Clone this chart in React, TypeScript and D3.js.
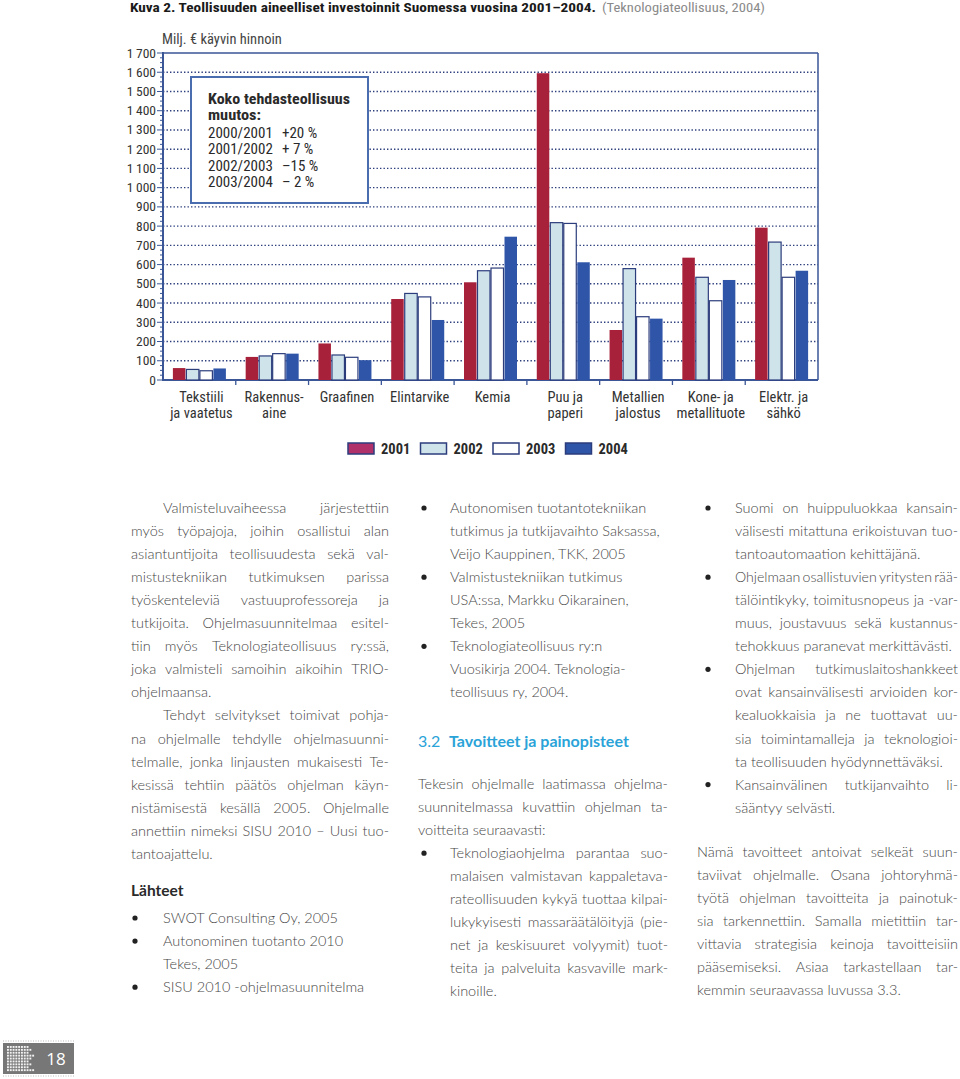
import React from "react";
import * as d3 from "d3";

// ---------------- Chart data ----------------
const categories: string[][] = [
  ["Tekstiili", "ja vaatetus"],
  ["Rakennus-", "aine"],
  ["Graafinen"],
  ["Elintarvike"],
  ["Kemia"],
  ["Puu ja", "paperi"],
  ["Metallien", "jalostus"],
  ["Kone- ja", "metallituote"],
  ["Elektr. ja", "sähkö"],
];
const years = ["2001", "2002", "2003", "2004"];
const values2001 = [62, 120, 190, 421, 508, 1595, 260, 636, 792];
const values2002 = [55, 125, 130, 450, 568, 818, 579, 534, 717];
const values2003 = [48, 137, 118, 432, 582, 814, 329, 412, 534];
const values2004 = [60, 137, 103, 312, 745, 612, 319, 520, 568];
const seriesValues = [values2001, values2002, values2003, values2004];
const yTickValues = d3.range(0, 1701, 100);
const yMinorTicks = d3.range(0, 1701, 25);
const insetTitle = ["Koko tehdasteollisuus", "muutos:"];
const insetPeriods = ["2000/2001", "2001/2002", "2002/2003", "2003/2004"];
const insetChanges = ["+20 %", "+ 7 %", "–15 %", "– 2 %"];

const titleBold = "Kuva 2. Teollisuuden aineelliset investoinnit Suomessa vuosina 2001–2004.";
const titleLight = "(Teknologiateollisuus, 2004)";
const yAxisTitle = "Milj. € käyvin hinnoin";

// ---------------- Page text ----------------
type L = { t: string; k: string; j: number };
const col1a: L[] = [
  { t: "Valmisteluvaiheessa järjestettiin", k: "i", j: 1 },
  { t: "myös työpajoja, joihin osallistui alan", k: "p", j: 1 },
  { t: "asiantuntijoita teollisuudesta sekä val-", k: "p", j: 1 },
  { t: "mistustekniikan tutkimuksen parissa", k: "p", j: 1 },
  { t: "työskenteleviä vastuuprofessoreja ja", k: "p", j: 1 },
  { t: "tutkijoita. Ohjelmasuunnitelmaa esitel-", k: "p", j: 1 },
  { t: "tiin myös Teknologiateollisuus ry:ssä,", k: "p", j: 1 },
  { t: "joka valmisteli samoihin aikoihin TRIO-", k: "p", j: 1 },
  { t: "ohjelmaansa.", k: "p", j: 0 },
  { t: "Tehdyt selvitykset toimivat pohja-", k: "i", j: 1 },
  { t: "na ohjelmalle tehdylle ohjelmasuunni-", k: "p", j: 1 },
  { t: "telmalle, jonka linjausten mukaisesti Te-", k: "p", j: 1 },
  { t: "kesissä tehtiin päätös ohjelman käyn-", k: "p", j: 1 },
  { t: "nistämisestä kesällä 2005. Ohjelmalle", k: "p", j: 1 },
  { t: "annettiin nimeksi SISU 2010 – Uusi tuo-", k: "p", j: 1 },
  { t: "tantoajattelu.", k: "p", j: 0 },
];
const col1Heading = "Lähteet";
const col1b: L[] = [
  { t: "SWOT Consulting Oy, 2005", k: "b", j: 0 },
  { t: "Autonominen tuotanto 2010", k: "b", j: 0 },
  { t: "Tekes, 2005", k: "c", j: 0 },
  { t: "SISU 2010 -ohjelmasuunnitelma", k: "b", j: 0 },
];
const col2a: L[] = [
  { t: "Autonomisen tuotantotekniikan", k: "b", j: 0 },
  { t: "tutkimus ja tutkijavaihto Saksassa,", k: "c", j: 0 },
  { t: "Veijo Kauppinen, TKK, 2005", k: "c", j: 0 },
  { t: "Valmistustekniikan tutkimus", k: "b", j: 0 },
  { t: "USA:ssa, Markku Oikarainen,", k: "c", j: 0 },
  { t: "Tekes, 2005", k: "c", j: 0 },
  { t: "Teknologiateollisuus ry:n", k: "b", j: 0 },
  { t: "Vuosikirja 2004. Teknologia-", k: "c", j: 0 },
  { t: "teollisuus ry, 2004.", k: "c", j: 0 },
];
const col2HeadNum = "3.2";
const col2Heading = "Tavoitteet ja painopisteet";
const col2b: L[] = [
  { t: "Tekesin ohjelmalle laatimassa ohjelma-", k: "p", j: 1 },
  { t: "suunnitelmassa kuvattiin ohjelman ta-", k: "p", j: 1 },
  { t: "voitteita seuraavasti:", k: "p", j: 0 },
  { t: "Teknologiaohjelma parantaa suo-", k: "b", j: 1 },
  { t: "malaisen valmistavan kappaletava-", k: "c", j: 1 },
  { t: "rateollisuuden kykyä tuottaa kilpai-", k: "c", j: 1 },
  { t: "lukykyisesti massaräätälöityjä (pie-", k: "c", j: 1 },
  { t: "net ja keskisuuret volyymit) tuot-", k: "c", j: 1 },
  { t: "teita ja palveluita kasvaville mark-", k: "c", j: 1 },
  { t: "kinoille.", k: "c", j: 0 },
];
const col3a: L[] = [
  { t: "Suomi on huippuluokkaa kansain-", k: "b", j: 1 },
  { t: "välisesti mitattuna erikoistuvan tuo-", k: "c", j: 1 },
  { t: "tantoautomaation kehittäjänä.", k: "c", j: 0 },
  { t: "Ohjelmaan osallistuvien yritysten rää-", k: "b", j: 1 },
  { t: "tälöintikyky, toimitusnopeus ja -var-", k: "c", j: 1 },
  { t: "muus, joustavuus sekä kustannus-", k: "c", j: 1 },
  { t: "tehokkuus paranevat merkittävästi.", k: "c", j: 0 },
  { t: "Ohjelman tutkimuslaitoshankkeet", k: "b", j: 1 },
  { t: "ovat kansainvälisesti arvioiden kor-", k: "c", j: 1 },
  { t: "kealuokkaisia ja ne tuottavat uu-", k: "c", j: 1 },
  { t: "sia toimintamalleja ja teknologioi-", k: "c", j: 1 },
  { t: "ta teollisuuden hyödynnettäväksi.", k: "c", j: 0 },
  { t: "Kansainvälinen tutkijanvaihto li-", k: "b", j: 1 },
  { t: "sääntyy selvästi.", k: "c", j: 0 },
];
const col3b: L[] = [
  { t: "Nämä tavoitteet antoivat selkeät suun-", k: "p", j: 1 },
  { t: "taviivat ohjelmalle. Osana johtoryhmä-", k: "p", j: 1 },
  { t: "työtä ohjelman tavoitteita ja painotuk-", k: "p", j: 1 },
  { t: "sia tarkennettiin. Samalla mietittiin tar-", k: "p", j: 1 },
  { t: "vittavia strategisia keinoja tavoitteisiin", k: "p", j: 1 },
  { t: "pääsemiseksi. Asiaa tarkastellaan tar-", k: "p", j: 1 },
  { t: "kemmin seuraavassa luvussa 3.3.", k: "p", j: 0 },
];
const pageNumber = "18";

// ---------------- Styling ----------------
const CHART_FONT = "'Liberation Sans Narrow', 'Roboto Condensed', 'DejaVu Sans Condensed', sans-serif";
const BODY_FONT_FAMILY = "Lato";
const BODY_SIZE = 14.5;
const BODY_WEIGHT = 300;
const BODY_COLOR = "#474747";
const LINE_H = 23.05;
const seriesFill = ["#a8213a", "#cfe3ea", "#ffffff", "#2f55a8"];
const legendFill = ["#b0306a", "#cfe3ea", "#ffffff", "#2f55a8"];
const OUTLINE = "#2c3d7c";

let measureCtx: CanvasRenderingContext2D | null = null;
function measure(text: string, size: number): number {
  if (!measureCtx) measureCtx = document.createElement("canvas").getContext("2d");
  if (!measureCtx) return text.length * size * 0.5;
  measureCtx.font = `${BODY_WEIGHT} ${size}px ${BODY_FONT_FAMILY}`;
  return measureCtx.measureText(text).width;
}

type ColGeom = { left: number; right: number; indent: number; bullet: number; bulletText: number };

function TextLine({ line, y, g }: { line: L; y: number; g: ColGeom }) {
  const x0 = line.k === "i" ? g.indent : line.k === "b" || line.k === "c" ? g.bulletText : g.left;
  const width = g.right - x0;
  const base = y + 5;
  const bullet = line.k === "b" ? <circle cx={g.bullet} cy={y} r={2.6} fill="#222" /> : null;
  const words = line.t.split(" ");
  // choose a size so that the words fit with at least a minimal gap
  const minGap = 2.2;
  let size = BODY_SIZE;
  const needed = (s: number) => d3.sum(words.map((w) => measure(w, s))) + minGap * (words.length - 1);
  const n0 = needed(size);
  if (n0 > width) size = size * (width / n0);
  const common = { fontFamily: BODY_FONT_FAMILY, fontSize: size, fontWeight: BODY_WEIGHT, fill: BODY_COLOR };
  if (!line.j || words.length < 2) {
    return (
      <g>
        {bullet}
        <text x={x0} y={base} {...common}>
          {line.t}
        </text>
      </g>
    );
  }
  const widths = words.map((w) => measure(w, size));
  const gap = (width - d3.sum(widths)) / (words.length - 1);
  let cx = x0;
  const xs = widths.map((w) => {
    const p = cx;
    cx += w + gap;
    return p;
  });
  return (
    <g>
      {bullet}
      {words.map((w, i) => (
        <text key={i} x={xs[i]} y={base} {...common}>
          {w}
        </text>
      ))}
    </g>
  );
}

function Block({ lines, y0, g }: { lines: L[]; y0: number; g: ColGeom }) {
  return (
    <g>
      {lines.map((l, i) => (
        <TextLine key={i} line={l} y={y0 + i * LINE_H} g={g} />
      ))}
    </g>
  );
}

function Chart() {
  const left = 163, right = 818, top = 53, bottom = 380;
  const x = d3.scaleBand<number>().domain(d3.range(categories.length)).range([left, right]);
  const y = d3.scaleLinear().domain([0, 1700]).range([bottom, top]);
  const groupW = 54;
  const xs = d3.scaleBand<string>().domain(years).range([0, groupW]);
  const fmt = (d: number) => (d >= 1000 ? `${Math.floor(d / 1000)}\u2009${String(d % 1000).padStart(3, "0")}` : String(d));

  return (
    <g>
      {/* title */}
      <text x={130} y={12} fontFamily={CHART_FONT} fontSize={13.5} fontWeight="bold" fill="#1a1a1a" textLength={466} lengthAdjust="spacingAndGlyphs">
        {titleBold}
      </text>
      <text x={602} y={12} fontFamily={CHART_FONT} fontSize={13.5} fill="#8a8a8a" textLength={163} lengthAdjust="spacingAndGlyphs">
        {titleLight}
      </text>

      {/* y axis title */}
      <text x={162} y={44} fontFamily={CHART_FONT} fontSize={14.5} fill="#444">
        {yAxisTitle}
      </text>

      {/* gridlines */}
      {yTickValues
        .filter((d) => d > 0 && d < 1700)
        .map((d) => (
          <line key={d} x1={left} x2={right} y1={y(d)} y2={y(d)} stroke="#2c3d7c" strokeWidth={1.4} strokeDasharray="1.4 2.1" />
        ))}

      {/* frame */}
      <line x1={left} x2={right} y1={y(1700)} y2={y(1700)} stroke="#3a5696" strokeWidth={1.5} />
      <line x1={right} x2={right} y1={y(1700)} y2={y(0)} stroke="#3a5696" strokeWidth={1.5} />
      <line x1={left} x2={left} y1={y(1700) - 1} y2={y(0) + 1} stroke="#3a5696" strokeWidth={2} />
      <line x1={left} x2={right} y1={y(0)} y2={y(0)} stroke="#3a5696" strokeWidth={2} />

      {/* y ticks */}
      {yMinorTicks.map((d) => (
        <line key={"m" + d} x1={left - (d % 100 === 0 ? 6 : 3)} x2={left} y1={y(d)} y2={y(d)} stroke="#3a5696" strokeWidth={1} />
      ))}
      {yTickValues.map((d) => (
        <text key={"t" + d} x={156} y={y(d) + 4.5} textAnchor="end" fontFamily={CHART_FONT} fontSize={13.5} fill="#333">
          {fmt(d)}
        </text>
      ))}

      {/* category dividers */}
      {d3.range(1, categories.length).map((i) => (
        <line key={"c" + i} x1={x(i)!} x2={x(i)!} y1={y(0)} y2={y(0) + 5} stroke="#3a5696" strokeWidth={1.3} />
      ))}

      {/* inset box */}
      <rect x={191} y={77} width={177} height={126} fill="#fff" stroke="#4a6db0" strokeWidth={2} />
      {insetTitle.map((t, i) => (
        <text key={"it" + i} x={208} y={104 + i * 16.3} fontFamily={CHART_FONT} fontSize={15} fontWeight="bold" fill="#2a2a2a" textLength={i === 0 ? 142 : 53} lengthAdjust="spacingAndGlyphs">
          {t}
        </text>
      ))}
      {insetPeriods.map((p, i) => (
        <g key={"ip" + i}>
          <text x={208} y={138 + i * 16.4} fontFamily={CHART_FONT} fontSize={15} fill="#2a2a2a">
            {p}
          </text>
          <text x={282} y={138 + i * 16.4} fontFamily={CHART_FONT} fontSize={15} fill="#2a2a2a">
            {insetChanges[i]}
          </text>
        </g>
      ))}

      {/* bars */}
      {categories.map((_, ci) => {
        const gx = x(ci)! + (x.bandwidth() - groupW) / 2;
        return (
          <g key={"b" + ci}>
            {years.map((yr, si) => {
              const v = seriesValues[si][ci];
              return (
                <rect
                  key={yr}
                  x={gx + xs(yr)! + 0.5}
                  y={y(v)}
                  width={xs.bandwidth() - 1}
                  height={y(0) - y(v)}
                  fill={seriesFill[si]}
                  stroke={si === 0 || si === 3 ? "none" : OUTLINE}
                  strokeWidth={1.2}
                />
              );
            })}
          </g>
        );
      })}

      {/* category labels */}
      {categories.map((lines, ci) => (
        <text key={"cl" + ci} textAnchor="middle" fontFamily={CHART_FONT} fontSize={14.5} fill="#333">
          {lines.map((l, li) => (
            <tspan key={li} x={x(ci)! + x.bandwidth() / 2 + 2} y={402 + li * 15.5}>
              {l}
            </tspan>
          ))}
        </text>
      ))}

      {/* legend */}
      {years.map((yr, i) => {
        const lx = 348 + i * 72.5;
        return (
          <g key={"lg" + yr}>
            <rect x={lx} y={443} width={26} height={11} fill={legendFill[i]} stroke={OUTLINE} strokeWidth={1.5} />
            <text x={lx + 33} y={454} fontFamily={CHART_FONT} fontSize={14.5} fontWeight="bold" fill="#2a2a2a">
              {yr}
            </text>
          </g>
        );
      })}
    </g>
  );
}

function Footer() {
  const cols = d3.range(0, 11);
  const rows = d3.range(0, 9);
  return (
    <g>
      <line x1={3} x2={74} y1={1041} y2={1041} stroke="#bbb" strokeDasharray="1 1.5" />
      <line x1={3} x2={74} y1={1076} y2={1076} stroke="#bbb" strokeDasharray="1 1.5" />
      <rect x={3} y={1043} width={71} height={31} fill="#777" />
      {rows.map((r) =>
        cols
          .filter((c) => c < 7 || (c - 7) * 2 < ((r * 3) % 5) + 1)
          .map((c) => <rect key={r + "-" + c} x={7 + c * 2.8} y={1046 + r * 2.9} width={1.9} height={1.9} fill="#f2f2f2" />)
      )}
      <text x={56} y={1065} textAnchor="middle" fontFamily="'Open Sans', sans-serif" fontSize={17} fill="#fff">
        {pageNumber}
      </text>
    </g>
  );
}

export default function App() {
  const g1: ColGeom = { left: 131, right: 389, indent: 163, bullet: 135, bulletText: 163 };
  const g2: ColGeom = { left: 418, right: 668, indent: 450, bullet: 424, bulletText: 450 };
  const g3: ColGeom = { left: 697, right: 958, indent: 735, bullet: 708, bulletText: 735 };
  return (
    <svg width={960} height={1079} style={{ position: "absolute", left: 0, top: 0, background: "#fff" }}>
      <rect width={960} height={1079} fill="#fff" />
      <Chart />
      <Block lines={col1a} y0={508} g={g1} />
      <text x={131} y={896} fontFamily={BODY_FONT_FAMILY} fontSize={15.5} fontWeight="bold" fill="#2a2a2a">
        {col1Heading}
      </text>
      <Block lines={col1b} y0={918} g={g1} />
      <Block lines={col2a} y0={508} g={g2} />
      <text x={418} y={747} fontFamily={BODY_FONT_FAMILY} fontSize={16} fill="#2aa3d8">
        {col2HeadNum}
      </text>
      <text x={449} y={747} fontFamily={BODY_FONT_FAMILY} fontSize={16} fontWeight="bold" fill="#2aa3d8">
        {col2Heading}
      </text>
      <Block lines={col2b} y0={784} g={g2} />
      <Block lines={col3a} y0={508} g={g3} />
      <Block lines={col3b} y0={852} g={g3} />
      <Footer />
    </svg>
  );
}
